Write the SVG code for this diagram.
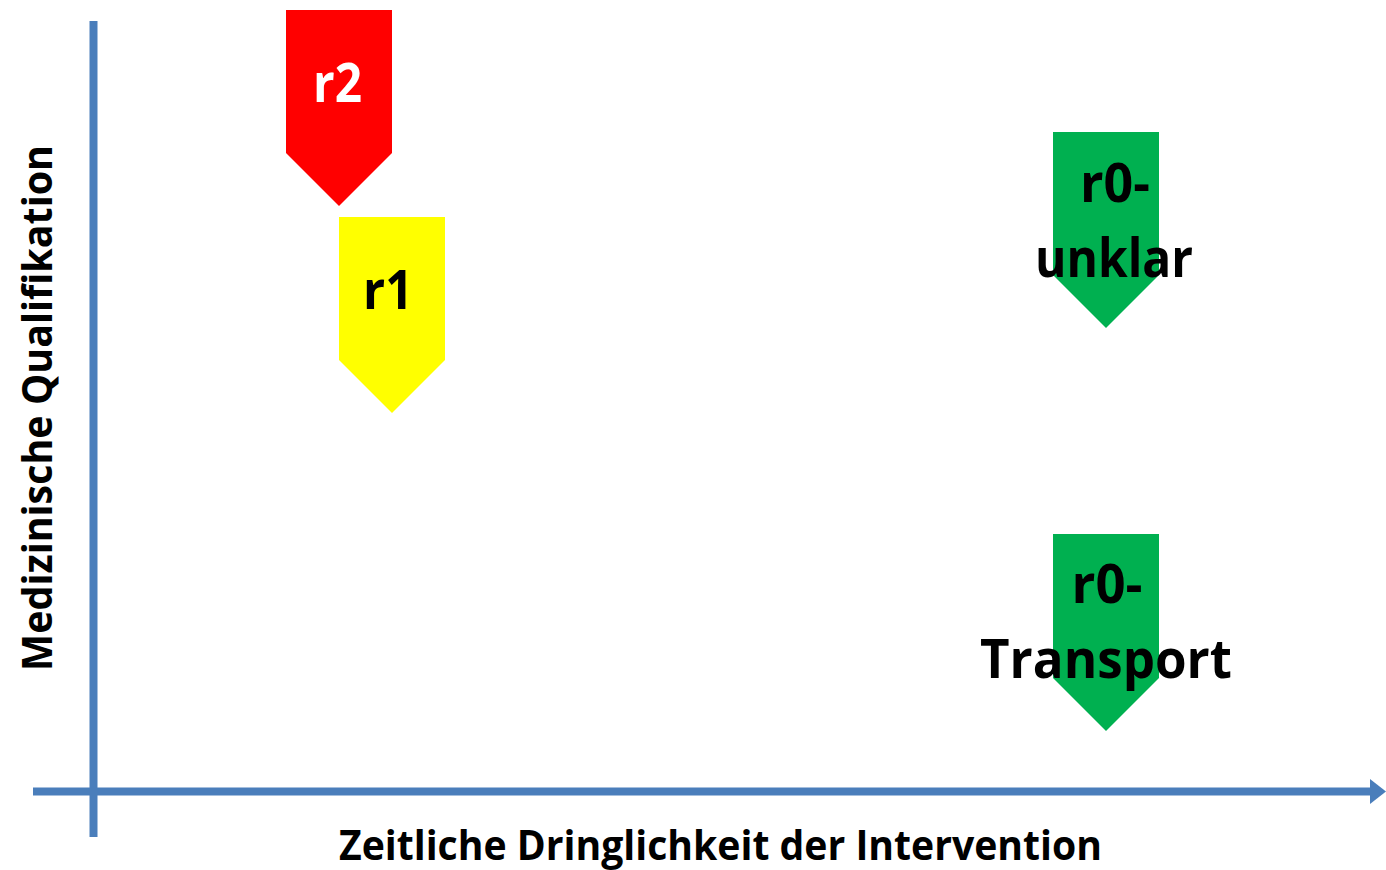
<svg xmlns="http://www.w3.org/2000/svg" width="1386" height="870" viewBox="0 0 1386 870">
<defs>
<style>
.ax{stroke:#4A7EBB;stroke-width:8;fill:none}
.lbl{font-family:"Open Sans","Liberation Sans",sans-serif;font-weight:bold;font-size:53px;text-anchor:middle;fill:#000}
.axl{font-family:"Open Sans","Liberation Sans",sans-serif;font-weight:bold;font-size:41px;fill:#000}
</style>
</defs>
<rect width="1386" height="870" fill="#fff"/>
<g id="axes">
<line class="ax" x1="93.5" y1="21" x2="93.5" y2="837"/>
<line class="ax" x1="33" y1="791.5" x2="1371" y2="791.5"/>
<polygon points="1370,779 1386,791.5 1370,804" fill="#4A7EBB"/>
</g>
<g id="r2">
<polygon points="286,10 392,10 392,153 339,206 286,153" fill="#FF0000"/>
<text class="lbl" x="337.5" y="102" style="fill:#fff" textLength="49" lengthAdjust="spacingAndGlyphs">r2</text>
</g>
<g id="r1">
<polygon points="339,217 445,217 445,360 392,413 339,360" fill="#FFFF00"/>
<text class="lbl" x="388" y="309" textLength="50" lengthAdjust="spacingAndGlyphs">r1</text>
</g>
<g id="r0-unklar">
<polygon points="1053,132 1159,132 1159,275 1106,328 1053,275" fill="#00B050"/>
<text class="lbl" x="1115" y="202" textLength="70" lengthAdjust="spacingAndGlyphs">r0-</text>
<text class="lbl" x="1114" y="277" textLength="158" lengthAdjust="spacingAndGlyphs">unklar</text>
</g>
<g id="r0-transport">
<polygon points="1053,534 1159,534 1159,678 1106,731 1053,678" fill="#00B050"/>
<text class="lbl" x="1107" y="603" textLength="71" lengthAdjust="spacingAndGlyphs">r0-</text>
<text class="lbl" x="1106" y="678" textLength="252" lengthAdjust="spacingAndGlyphs">Transport</text>
</g>
<g id="x-label">
<text class="axl" x="339" y="860" textLength="763" lengthAdjust="spacingAndGlyphs">Zeitliche Dringlichkeit der Intervention</text>
</g>
<g id="y-label">
<text class="axl" transform="translate(51.5,671) rotate(-90)" x="0" y="0" textLength="526" lengthAdjust="spacingAndGlyphs">Medizinische Qualifikation</text>
</g>
</svg>
